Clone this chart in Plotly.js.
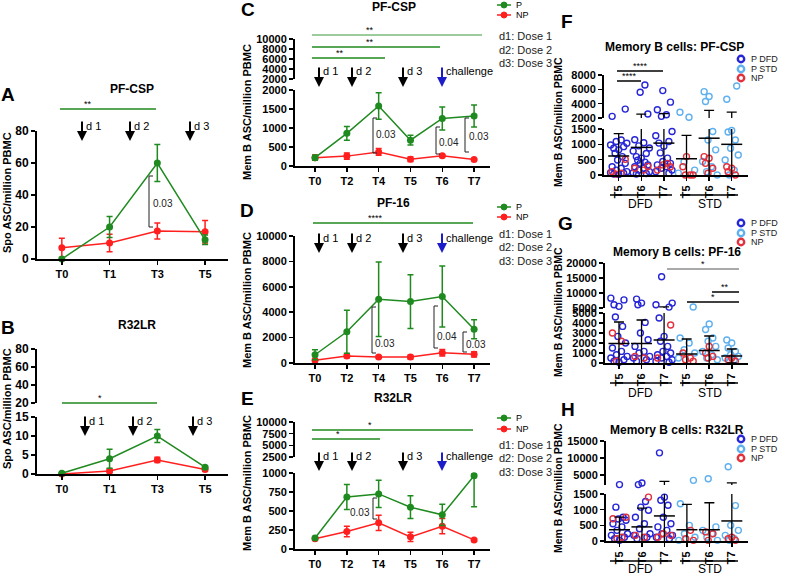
<!DOCTYPE html>
<html><head><meta charset="utf-8">
<script src="https://cdn.plot.ly/plotly-3.0.1.min.js"></script>
<style>html,body{margin:0;padding:0;background:#fff}#chart{width:785px;height:575px}</style>
</head><body><div id="chart"></div>
<script>
// ================= DATA =================
const timeA = ['T0','T1','T3','T5'];
const A_P = [0, 20, 60, 12];
const A_P_err = [0, 6.5, 11.5, 3];
const A_NP = [7, 10, 17.5, 17];
const A_NP_err = [6, 5.5, 5, 7];

const B_P = [0.2, 4, 10, 1.8];
const B_P_err = [0.2, 2.5, 1.7, 0.3];
const B_NP = [0, 0.8, 3.7, 1.2];
const B_NP_err = [0, 0.5, 0.7, 0.5];

const timeC = ['T0','T2','T4','T5','T6','T7'];
const C_P = [220, 860, 1580, 680, 1250, 1315];
const C_P_err = [60, 180, 350, 130, 300, 290];
const C_NP = [220, 260, 370, 180, 270, 170];
const C_NP_err = [70, 80, 90, 60, 30, 20];

const D_P = [650, 2460, 5020, 4840, 5230, 2660];
const D_P_err = [400, 1700, 2940, 2115, 2400, 750];
const D_NP = [210, 550, 470, 470, 810, 680];
const D_NP_err = [100, 130, 80, 150, 250, 200];

const E_P = [145, 685, 725, 550, 450, 965];
const E_P_err = [20, 165, 180, 150, 140, 35];
const E_P_errMinus = [20, 165, 180, 150, 140, 410];
const E_NP = [135, 230, 345, 160, 300, 120];
const E_NP_err = [20, 70, 100, 60, 100, 10];

const memCols = ['T5','T6','T7','T5','T6','T7'];
const memGroups = ['DFD','STD'];

const F_P = [
 [3240, 2230, 1140, 1090, 1035, 980, 925, 870, 820, 710, 600, 490, 380, 270, 220, 160, 110, 75, 55, 30, 20],
 [6600, 5590, 2550, 1150, 1050, 950, 880, 780, 700, 600, 550, 480, 420, 380, 330, 270, 220, 160, 110, 75, 50, 30],
 [5820, 4210, 3150, 2460, 2230, 1420, 1280, 1090, 1040, 940, 720, 550, 440, 380, 330, 270, 220, 160, 110, 55],
 [2800, 2100, 430, 160, 60],
 [5680, 4990, 4300, 1420, 1140, 820, 440, 270, 110, 0],
 [6460, 4620, 1450, 1400, 1140, 870, 650, 490, 160, 0]
];
const F_NP = [[510, 110, 55, 30], [280, 220, 160], [380, 330, 270, 160], [600, 270, 0, 0, 0], [600, 545, 380, 220, 55], [270, 220, 110, 0]];
const F_mean = [620, 900, 1040, 530, 1200, 1000];
const F_sd = [730, 1650, 1560, 760, 1860, 1830];

const G_P = [
 [8290, 7700, 6100, 5550, 4600, 3660, 2660, 2000, 1500, 1160, 830, 660, 500, 330, 170, 70],
 [7960, 6640, 6100, 4060, 3000, 2330, 1660, 1160, 1000, 660, 500, 330, 170],
 [15400, 6640, 6100, 5300, 4500, 2660, 2170, 1660, 1160, 1000, 830, 660, 500, 330, 170, 70],
 [5330, 2500, 2000, 1330, 1000, 500],
 [3900, 3350, 2500, 2170, 1660, 1160, 830, 500, 330],
 [2300, 2000, 1500, 1160, 830, 660, 500, 330, 170]
];
const G_NP = [[3000, 2170, 170], [660, 500], [3800, 500], [1000, 500, 330, 170], [1660, 1000, 660, 500], [500, 330, 170]];
const G_mean = [1950, 1950, 2300, 900, 1250, 700];
const G_sd = [2150, 2350, 3100, 1500, 1450, 700];

const H_P = [
 [2120, 1080, 760, 700, 660, 550, 450, 340, 230, 180, 120, 70, 20],
 [2600, 2120, 1260, 1080, 980, 760, 550, 390, 230, 180, 120, 70],
 [11500, 1400, 1300, 1140, 760, 550, 450, 340, 230, 180, 120, 70],
 [3370, 1190, 500, 230, 120, 20],
 [3850, 450, 340, 230, 120, 20],
 [7400, 1130, 500, 340, 180, 70, 20]
];
const H_NP = [[760, 710, 120, 70], [1400, 180, 120], [230, 180, 120], [340, 70, 20], [290, 230, 20], [120, 70, 20]];
const H_mean = [360, 450, 800, 360, 360, 640];
const H_sd = [400, 600, 2300, 810, 860, 1960];

// ================= STYLE / HELPERS =================
const W = 785, H = 575;
const FONT = 'Liberation Sans, Arial, sans-serif';
const GREEN = '#1f8a1f', RED = '#ff1f1f', BLUE_ARROW = '#1c1cc8';
const DARKBLUE = '#2626d6', LIGHTBLUE = '#5fb0ee', NPRED = '#e2303c';
const px = x => x / W, py = y => 1 - y / H;

function yax(top, bottom, range, tickvals, anchor, fs) {
  return {domain: [py(bottom), py(top)], range, tickvals, anchor, tickformat: 'd',
    showline: true, linewidth: 2, linecolor: '#000', ticks: 'outside', ticklen: 4, tickwidth: 1.5,
    tickcolor: '#000', tickfont: {family: FONT, size: fs || 11, color: '#000', weight: 'bold'},
    showgrid: false, zeroline: false, fixedrange: true};
}
function xax(left, right, range, anchor, extra) {
  return Object.assign({domain: [px(left), px(right)], range, anchor,
    showline: true, linewidth: 2, linecolor: '#000', ticks: 'outside', ticklen: 4, tickwidth: 1.5,
    tickcolor: '#000', tickfont: {family: FONT, size: 11, color: '#000', weight: 'bold'},
    showgrid: false, zeroline: false, fixedrange: true}, extra || {});
}
function tsTrace(xcats, y, err, errMinus, color, xa, ya) {
  const e = {type: 'data', array: err, visible: true, color, thickness: 1.5, width: 3};
  if (errMinus) { e.symmetric = false; e.arrayminus = errMinus; }
  return {type: 'scatter', mode: 'lines+markers', x: xcats, y, xaxis: xa, yaxis: ya,
    line: {color, width: 1.5}, marker: {color, size: 7}, error_y: e,
    cliponaxis: false, hoverinfo: 'skip', showlegend: false};
}
function empty(xa, ya) { return {type: 'scatter', x: [], y: [], xaxis: xa, yaxis: ya, showlegend: false}; }

const jitterPattern = [0, -0.22, 0.22, -0.36, 0.36, -0.11, 0.11, -0.29, 0.29, -0.05, 0.16, -0.16];
function jitterOffsets(vals, shift) {
  const idx = vals.map((v, i) => i).sort((a, b) => vals[a] - vals[b]);
  const off = new Array(vals.length);
  idx.forEach((k, r) => { off[k] = jitterPattern[(r + shift) % jitterPattern.length]; });
  return off;
}
function dotPanel(P, NP, mean, sd, xa, yLow, yUp, lowMax, upMin) {
  const tr = [];
  const groups = [
    {color: DARKBLUE, cols: [0, 1, 2], src: P, shift: 0},
    {color: LIGHTBLUE, cols: [3, 4, 5], src: P, shift: 0},
    {color: NPRED, cols: [0, 1, 2, 3, 4, 5], src: NP, shift: 5}
  ];
  groups.forEach(g => {
    const lo = {x: [], y: []}, up = {x: [], y: []};
    g.cols.forEach(c => {
      const vals = g.src[c];
      const off = jitterOffsets(vals, g.shift + c);
      vals.forEach((v, i) => {
        const t = v > lowMax ? up : lo;
        t.x.push(c + off[i]); t.y.push(v);
      });
    });
    [[lo, yLow], [up, yUp]].forEach(([t, ya]) => {
      tr.push({type: 'scatter', mode: 'markers', x: t.x, y: t.y, xaxis: xa, yaxis: ya,
        marker: {symbol: 'circle-open', size: 6, color: g.color, line: {width: 1.4}},
        cliponaxis: false, hoverinfo: 'skip', showlegend: false});
    });
  });
  const cols = [0, 1, 2, 3, 4, 5];
  tr.push({type: 'scatter', mode: 'markers', x: cols, y: mean, xaxis: xa, yaxis: yLow,
    marker: {symbol: 'line-ew', size: 15, color: '#000', line: {color: '#000', width: 1.5}},
    error_y: {type: 'data', array: sd, visible: true, color: '#000', thickness: 1.3, width: 5},
    hoverinfo: 'skip', showlegend: false});
  const ux = [], uy = [], um = [];
  cols.forEach(c => {
    const top = mean[c] + sd[c];
    if (top > lowMax) { ux.push(c); uy.push(top); um.push(top - upMin * 0.5); }
  });
  tr.push({type: 'scatter', mode: 'markers', x: ux, y: uy, xaxis: xa, yaxis: yUp,
    marker: {size: 1, opacity: 0},
    error_y: {type: 'data', symmetric: false, array: ux.map(() => 0), arrayminus: um, visible: true,
      color: '#000', thickness: 1.3, width: 5},
    hoverinfo: 'skip', showlegend: false});
  return tr;
}

// ================= TRACES =================
const traces = [
  tsTrace(timeA, A_NP, A_NP_err, null, RED, 'x', 'y'),
  tsTrace(timeA, A_P, A_P_err, null, GREEN, 'x', 'y'),
  tsTrace(timeA, B_NP, B_NP_err, null, RED, 'x2', 'y2'),
  tsTrace(timeA, B_P, B_P_err, null, GREEN, 'x2', 'y2'),
  empty('x2', 'y3'),
  tsTrace(timeC, C_NP, C_NP_err, null, RED, 'x3', 'y4'),
  tsTrace(timeC, C_P, C_P_err, null, GREEN, 'x3', 'y4'),
  empty('x3', 'y5'),
  tsTrace(timeC, D_NP, D_NP_err, null, RED, 'x4', 'y6'),
  tsTrace(timeC, D_P, D_P_err, null, GREEN, 'x4', 'y6'),
  tsTrace(timeC, E_NP, E_NP_err, null, RED, 'x5', 'y7'),
  tsTrace(timeC, E_P, E_P_err, E_P_errMinus, GREEN, 'x5', 'y7'),
  empty('x5', 'y8'),
  ...dotPanel(F_P, F_NP, F_mean, F_sd, 'x6', 'y9', 'y10', 1500, 2000),
  ...dotPanel(G_P, G_NP, G_mean, G_sd, 'x7', 'y11', 'y12', 5000, 5000),
  ...dotPanel(H_P, H_NP, H_mean, H_sd, 'x8', 'y13', 'y14', 1500, 2000)
];

// ================= LAYOUT =================
const memX = {type: 'linear', tickvals: [0, 1, 2, 3, 4, 5], ticktext: memCols, tickangle: -90};
const layout = {
  width: W, height: H, margin: {l: 0, r: 0, t: 0, b: 0}, paper_bgcolor: '#fff', plot_bgcolor: 'rgba(0,0,0,0)',
  showlegend: false, font: {family: FONT, color: '#000'},
  xaxis: xax(37, 228, [-0.52, 3.48], 'y', {type: 'category'}),
  yaxis: yax(131, 259, [0, 80], [0, 20, 40, 60, 80], 'x', 12),
  xaxis2: xax(37, 228, [-0.52, 3.48], 'y2', {type: 'category'}),
  yaxis2: yax(417, 474, [0, 15], [0, 5, 10, 15], 'x2', 12),
  yaxis3: yax(349, 403, [20, 80], [20, 40, 60, 80], 'x2', 12),
  xaxis3: xax(295, 490, [-0.63, 5.5], 'y4', {type: 'category'}),
  yaxis4: yax(90, 166, [0, 2000], [0, 500, 1000, 1500, 2000], 'x3'),
  yaxis5: yax(39, 79, [2000, 10000], [2000, 4000, 6000, 8000, 10000], 'x3'),
  xaxis4: xax(295, 490, [-0.63, 5.5], 'y6', {type: 'category'}),
  yaxis6: yax(236, 363, [0, 10000], [0, 2000, 4000, 6000, 8000, 10000], 'x4'),
  xaxis5: xax(295, 490, [-0.63, 5.5], 'y7', {type: 'category'}),
  yaxis7: yax(473, 549, [0, 1000], [0, 250, 500, 750, 1000], 'x5'),
  yaxis8: yax(422, 457, [2500, 10000], [2500, 5000, 7500, 10000], 'x5'),
  xaxis6: xax(604, 748, [-0.65, 5.72], 'y9', memX),
  yaxis9: yax(129, 175, [0, 1500], [0, 500, 1000, 1500], 'x6'),
  yaxis10: yax(75, 118, [2000, 8000], [2000, 4000, 6000, 8000], 'x6'),
  xaxis7: xax(605, 748, [-0.62, 5.72], 'y11', memX),
  yaxis11: yax(313, 363, [0, 5000], [0, 1000, 2000, 3000, 4000, 5000], 'x7'),
  yaxis12: yax(263, 308, [5000, 20000], [5000, 10000, 15000, 20000], 'x7'),
  xaxis8: xax(606, 748, [-0.6, 5.72], 'y13', memX),
  yaxis13: yax(494, 541, [0, 1500], [0, 500, 1000, 1500], 'x8'),
  yaxis14: yax(441, 485, [2000, 15000], [5000, 10000, 15000], 'x8'),
  shapes: [], annotations: []
};
const S = layout.shapes, A = layout.annotations;

function line(x0, y0, x1, y1, color, width) {
  S.push({type: 'line', xref: 'paper', yref: 'paper', x0: px(x0), y0: py(y0), x1: px(x1), y1: py(y1),
    line: {color, width}, layer: 'above'});
}
function txt(x, y, text, size, opts) {
  const o = opts || {};
  A.push({xref: 'paper', yref: 'paper', x: px(x), y: py(y), text, showarrow: false,
    xanchor: o.xanchor || 'center', yanchor: o.yanchor || 'middle', textangle: o.angle || 0,
    borderpad: 0, font: {family: FONT, size, color: o.color || '#000', weight: o.weight || 'normal'}});
}
function arrow(x, yTop, yTip, color, label, labelY) {
  A.push({xref: 'paper', yref: 'paper', x: px(x), y: py(yTip), ax: 0, ay: -(yTip - yTop), text: '',
    showarrow: true, arrowhead: 2, arrowsize: 1, arrowwidth: 2, arrowcolor: color, standoff: 0});
  txt(x + 3, labelY, label, 11, {xanchor: 'left'});
}
function bracket(x, yTop, yBot, label, labelX, labelY, anchor) {
  line(x, yTop, x, yBot, '#222', 1);
  line(x, yTop, x + 4, yTop, '#222', 1);
  line(x, yBot, x + 4, yBot, '#222', 1);
  txt(labelX, labelY, label, 10, {xanchor: anchor || 'left', color: '#222'});
}
function sig(x0, x1, y, stars, starX, color, width) {
  line(x0, y, x1, y, color, width || 1.5);
  txt(starX, y - 5, stars, 9, {color: '#000'});
}
function legPNP(yP, yNP) {
  [[yP, GREEN, 'P'], [yNP, RED, 'NP']].forEach(([y, c, t]) => {
    line(497, y, 511, y, c, 1.5);
    S.push({type: 'circle', xref: 'paper', yref: 'paper', xsizemode: 'pixel', ysizemode: 'pixel',
      xanchor: px(504), yanchor: py(y), x0: -3, x1: 3, y0: -3, y1: 3, fillcolor: c, line: {color: c, width: 1}});
    txt(515, y, t, 9, {xanchor: 'left'});
  });
}
function legDose(y1, y2, y3) {
  txt(498, y1, 'd1: Dose 1', 11, {xanchor: 'left', color: '#222'});
  txt(498, y2, 'd2: Dose 2', 11, {xanchor: 'left', color: '#222'});
  txt(498, y3, 'd3: Dose 3', 11, {xanchor: 'left', color: '#222'});
}
function legMem(y1, y2, y3) {
  [[y1, DARKBLUE, 'P DFD'], [y2, LIGHTBLUE, 'P STD'], [y3, NPRED, 'NP']].forEach(([y, c, t]) => {
    S.push({type: 'circle', xref: 'paper', yref: 'paper', xsizemode: 'pixel', ysizemode: 'pixel',
      xanchor: px(741), yanchor: py(y), x0: -3.2, x1: 3.2, y0: -3.2, y1: 3.2, line: {color: c, width: 2.4}});
    txt(750, y, t, 9, {xanchor: 'left', color: '#222'});
  });
}
function groupLabels(yLine, yText) {
  line(610, yLine, 672, yLine, '#000', 1.5);
  line(680, yLine, 738, yLine, '#000', 1.5);
  txt(640, yText, memGroups[0], 12);
  txt(710, yText, memGroups[1], 12);
}

// panel letters
[['A', 8, 95], ['B', 8, 327], ['C', 248, 9], ['D', 247, 210], ['E', 247, 398], ['F', 567, 22], ['G', 565, 223], ['H', 568, 409]]
  .forEach(([t, x, y]) => txt(x, y, t, 19, {weight: 'bold'}));
// panel titles
txt(132, 89, 'PF-CSP', 12, {weight: 'bold'});
txt(137, 325, 'R32LR', 12, {weight: 'bold'});
txt(394, 7, 'PF-CSP', 12, {weight: 'bold'});
txt(393, 203, 'PF-16', 12, {weight: 'bold'});
txt(393, 398, 'R32LR', 12, {weight: 'bold'});
txt(674, 47, 'Memory B cells: PF-CSP', 12, {weight: 'bold'});
txt(677, 252, 'Memory B cells: PF-16', 12, {weight: 'bold'});
txt(677, 430, 'Memory B cells: R32LR', 12, {weight: 'bold'});
// y titles
txt(7, 193, 'Spo ASC/million PBMC', 11, {weight: 'bold', angle: -90});
txt(7, 409, 'Spo ASC/million PBMC', 11, {weight: 'bold', angle: -90});
txt(247, 112, 'Mem B ASC/million PBMC', 11, {weight: 'bold', angle: -90});
txt(247, 300, 'Mem B ASC/million PBMC', 11, {weight: 'bold', angle: -90});
txt(247, 483, 'Mem B ASC/million PBMC', 11, {weight: 'bold', angle: -90});
txt(558, 122, 'Mem B ASC/million PBMC', 10.5, {weight: 'bold', angle: -90});
txt(558, 312, 'Mem B ASC/million PBMC', 10.5, {weight: 'bold', angle: -90});
txt(558, 488, 'Mem B ASC/million PBMC', 10.5, {weight: 'bold', angle: -90});

// significance lines
sig(60, 156, 109, '**', 88, GREEN);
sig(62, 157, 403, '*', 100, GREEN);
sig(312, 482, 35, '**', 370, '#3a9a3a', 1);
sig(312, 440, 47, '**', 370, GREEN);
sig(312, 385, 58, '**', 340, GREEN);
sig(313, 473, 223, '****', 375, GREEN);
sig(312, 473, 430, '*', 370, GREEN);
sig(312, 380, 439, '*', 338, GREEN);
sig(617, 663, 71, '****', 640, '#000');
sig(617, 641, 81, '****', 629, '#000');
sig(667, 739, 269, '*', 703, '#555', 1);
sig(712, 739, 292, '**', 725, '#000');
sig(687, 739, 302, '*', 713, '#000');

// dose arrows
[[82, 'd 1'], [130, 'd 2'], [190, 'd 3']].forEach(([x, l]) => arrow(x, 120, 141, '#000', l, 126));
[[85, 'd 1'], [133, 'd 2'], [193, 'd 3']].forEach(([x, l]) => arrow(x, 415, 436, '#000', l, 421));
[[66, 87, 71], [232, 253, 238], [451, 471, 456]].forEach(([t, b, ly]) => {
  arrow(319, t, b, '#000', 'd 1', ly);
  arrow(352, t, b, '#000', 'd 2', ly);
  arrow(403, t, b, '#000', 'd 3', ly);
  arrow(442, t, b, BLUE_ARROW, 'challenge', ly);
});

// p-value brackets
bracket(149, 176, 227, '0.03', 152, 204);
bracket(373, 118, 153, '0.03', 375, 134);
bracket(436, 127, 154, '0.04', 438, 143);
bracket(465, 118, 152, '0.03', 468, 136);
bracket(372, 307, 353, '0.03', 374, 343);
bracket(434, 306, 348, '0.04', 436, 336);
bracket(463, 332, 352, '0.03', 465, 344);
bracket(373, 498, 519, '0.03', 371, 512, 'right');

// legends
legPNP(5, 15); legDose(36, 50, 63);
legPNP(207, 217); legDose(234, 247, 261);
legPNP(418, 429); legDose(445, 458, 472);
legMem(59, 69, 78); legMem(223, 233, 242); legMem(439, 449, 458);
groupLabels(195, 204); groupLabels(383, 393); groupLabels(561, 569);

Plotly.newPlot('chart', traces, layout, {staticPlot: true});
</script></body></html>
